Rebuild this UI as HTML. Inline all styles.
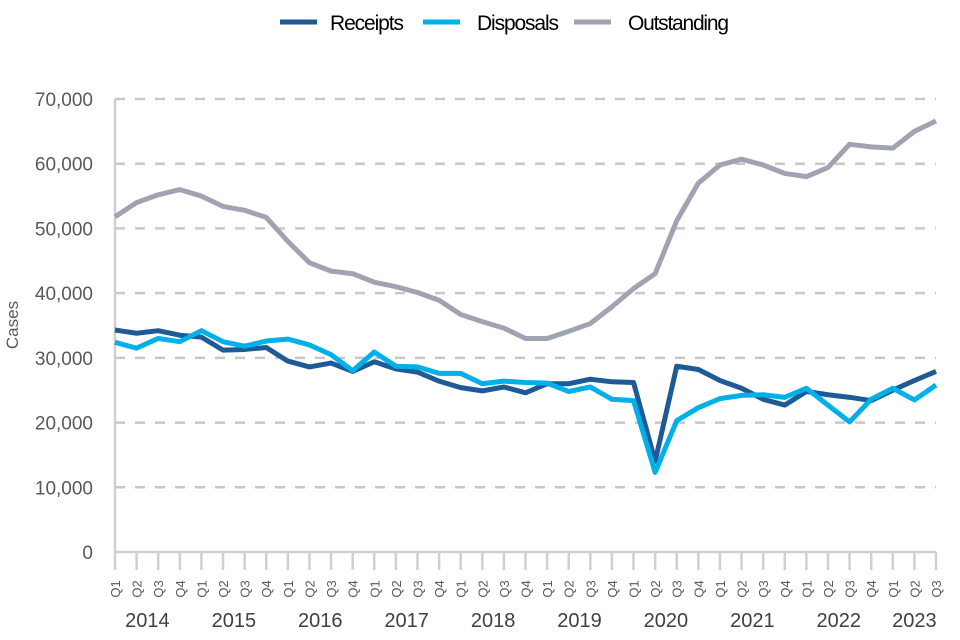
<!DOCTYPE html>
<html><head><meta charset="utf-8"><style>
body{margin:0;background:#fff;}
svg{display:block;font-family:"Liberation Sans",sans-serif;}
</style></head><body>
<svg id="chart" width="960" height="640" viewBox="0 0 960 640">
<g id="grid"></g>
<g id="yaxis"></g>
<g id="xaxis"></g>
<g id="series"></g>
<text x="18" y="325" transform="rotate(-90 18 325)" text-anchor="middle" font-size="17" fill="#595959">Cases</text>
<g>
<g><line x1="280" y1="22" x2="317" y2="22" stroke="#1d5a96" stroke-width="5"/><text x="330" y="30" font-size="21" fill="#000" textLength="74">Receipts</text></g>
<g><line x1="423" y1="22" x2="460" y2="22" stroke="#00b0e8" stroke-width="5"/><text x="477" y="30" font-size="21" fill="#000" textLength="82">Disposals</text></g>
<g><line x1="574" y1="22" x2="611" y2="22" stroke="#a0a4b2" stroke-width="5"/><text x="628" y="30" font-size="21" fill="#000" textLength="101">Outstanding</text></g>
</g>
</svg>
<script>
const years = ["2014","2015","2016","2017","2018","2019","2020","2021","2022","2023"];
const quarters = ["Q1","Q2","Q3","Q4"];
const yTicks = [0,10000,20000,30000,40000,50000,60000,70000];
const receipts = [34300,33800,34200,33500,33200,31200,31300,31600,29500,28600,29200,27900,29400,28300,27800,26400,25400,24900,25500,24600,26000,26000,26700,26300,26200,14000,28700,28200,26500,25300,23600,22700,24800,24300,23900,23400,25000,26500,27900];
const disposals = [32400,31500,33000,32500,34200,32500,31800,32600,32900,32000,30500,28000,30900,28700,28600,27600,27600,26000,26400,26200,26100,24800,25500,23600,23400,12300,20300,22300,23700,24200,24300,23900,25300,22700,20100,23600,25300,23500,25800];
const outstanding = [51800,54000,55200,56000,55000,53400,52800,51700,48000,44700,43400,43000,41700,41000,40100,38900,36700,35600,34600,33000,33000,34100,35300,37900,40700,43000,51200,57000,59800,60700,59800,58500,58000,59400,63000,62600,62400,65000,66600];
const NS="http://www.w3.org/2000/svg";
const X0=115,X1=936,Y0=552,Y1=99,YMAX=70000;
const n=receipts.length;
function xs(i){return X0+(X1-X0)*i/(n-1);}
function ys(v){return Y0-(Y0-Y1)*v/YMAX;}
function mk(tag,attrs,parent){const e=document.createElementNS(NS,tag);for(const k in attrs)e.setAttribute(k,attrs[k]);parent.appendChild(e);return e;}
const grid=document.getElementById('grid'),ya=document.getElementById('yaxis'),xa=document.getElementById('xaxis'),sr=document.getElementById('series');
yTicks.forEach(t=>{
  if(t>0){const g=mk('line',{x1:X0,x2:X1,y1:ys(t),y2:ys(t),stroke:'#c8c8c8','stroke-width':2.5,'stroke-dasharray':'10 10'},grid);
  
  }
  const l=mk('text',{x:93,y:ys(t)+7,'text-anchor':'end','font-size':19,fill:'#595959'},ya);
  
  
  l.textContent=t.toLocaleString('en-US');
});
mk('line',{x1:X0,x2:X0,y1:Y1,y2:Y0,stroke:'#d0d0d0','stroke-width':2.5},ya);
mk('line',{x1:X0,x2:X1,y1:Y0,y2:Y0,stroke:'#d0d0d0','stroke-width':2.5},xa);
for(let i=0;i<n;i++){
  const x=xs(i);
  mk('line',{x1:x,x2:x,y1:Y0,y2:Y0+18,stroke:'#d0d0d0','stroke-width':2.5},xa);
  const q=mk('text',{x:0,y:0,transform:`translate(${x+5},${Y0+37}) rotate(-90)`,'text-anchor':'middle','font-size':13,fill:'#595959'},xa);
  
  
  q.textContent=quarters[i%4];
}
years.forEach((y,j)=>{
  const cnt=Math.min(4,n-j*4);
  const x=(xs(j*4)+xs(j*4+cnt-1))/2;
  const t=mk('text',{x:x,y:627,'text-anchor':'middle','font-size':20,fill:'#404040'},xa);
  
  
  t.textContent=y;
});
function line(data,color,name){
  const p=mk('polyline',{points:data.map((v,i)=>xs(i)+','+ys(v)).join(' '),fill:'none',stroke:color,'stroke-width':5,'stroke-linejoin':'round'},sr);
  
  
}
line(outstanding,'#a0a4b2','outstanding-line');
line(receipts,'#1d5a96','receipts-line');
line(disposals,'#00b0e8','disposals-line');
</script>
</body></html>
